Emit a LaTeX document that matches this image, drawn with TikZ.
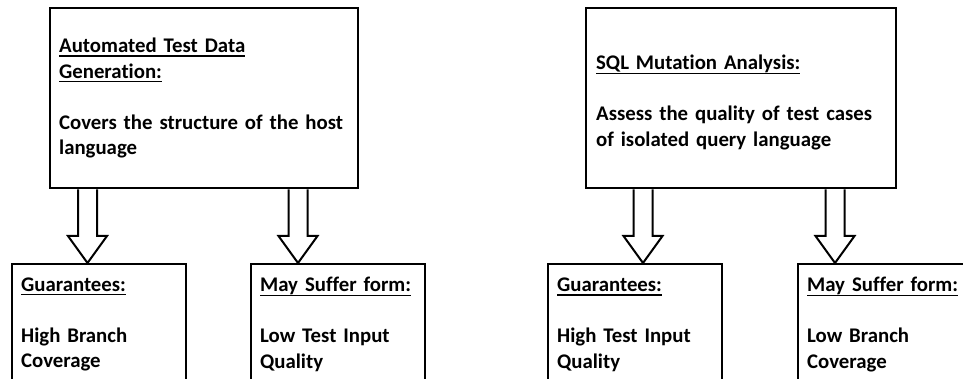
\documentclass[tikz,border=0pt]{standalone}
\usepackage{fontspec}
\setmainfont{Carlito}[Ligatures=NoCommon]
\usetikzlibrary{calc}

% underline at a fixed depth below the baseline
\newsavebox{\ulinebox}
\newcommand{\uln}[1]{\leavevmode\sbox{\ulinebox}{#1}\rlap{\rule[-4pt]{\wd\ulinebox}{1.3pt}}\usebox{\ulinebox}}

% hollow block arrow from #1 down to the tip #2
\newcommand{\blockarrow}[2]{%
  \draw[fatarrow] ($(#1)+(-9.5,0)$) -- ($(#2)+(-9.5,27)$) -- ++(-10,0) -- (#2)
    -- ++(19.5,27) -- ++(-10,0) -- ($(#1)+(9.5,0)$);}

\begin{document}
\begin{tikzpicture}[x=1pt, y=1pt,
    box/.style={draw, line width=2.3pt, anchor=north west, inner xsep=9pt, align=left,
      font={\fontsize{20.8}{25.5}\selectfont\bfseries}},
    topbox/.style={box, minimum width=308pt, minimum height=180pt, text width=290pt},
    lowbox/.style={box, minimum width=174pt, minimum height=121pt, text width=156pt},
    fatarrow/.style={line width=2pt, line join=miter, fill=white}]
      \useasboundingbox (0,0) rectangle (963,-379);
      \clip (0,0) rectangle (963,-379);
      % upper boxes
      \node[topbox] (atd) at (49,-7) {\uln{Automated Test Data}\\ \uln{Generation:}\\[\baselineskip]
        Covers the structure of the host\\ language};
      \node[topbox, inner xsep=10pt] (sqlma) at (585,-7) {\rule{0pt}{23.5pt}\uln{SQL Mutation Analysis:}\\[\baselineskip]
        Assess the quality of test cases\\ of isolated query language};
      % lower boxes
      \node[lowbox, minimum width=172pt] (guarL) at (11,-263) {\uln{Guarantees:}\\[\baselineskip] High Branch\\ Coverage};
      \node[lowbox] (sufferL) at (250,-263) {\uln{May Suffer form:}\\[\baselineskip] Low Test Input\\ Quality};
      \node[lowbox] (guarR) at (547,-263) {\uln{Guarantees:}\\[\baselineskip] High Test Input\\ Quality};
      \node[lowbox] (sufferR) at (797,-263) {\uln{May Suffer form:}\\[\baselineskip] Low Branch\\ Coverage};
      % arrows
      \foreach \src/\dst/\x [count=\i] in {atd/guarL/87.5, atd/sufferL/298, sqlma/guarR/643, sqlma/sufferR/835} {
        \coordinate (ax\i) at (\x,0);
        \coordinate (from\i) at (\src.south -| ax\i);
        \coordinate (to\i) at (\dst.north -| ax\i);
        \blockarrow{from\i}{to\i}
      }
    \end{tikzpicture}
\end{document}
